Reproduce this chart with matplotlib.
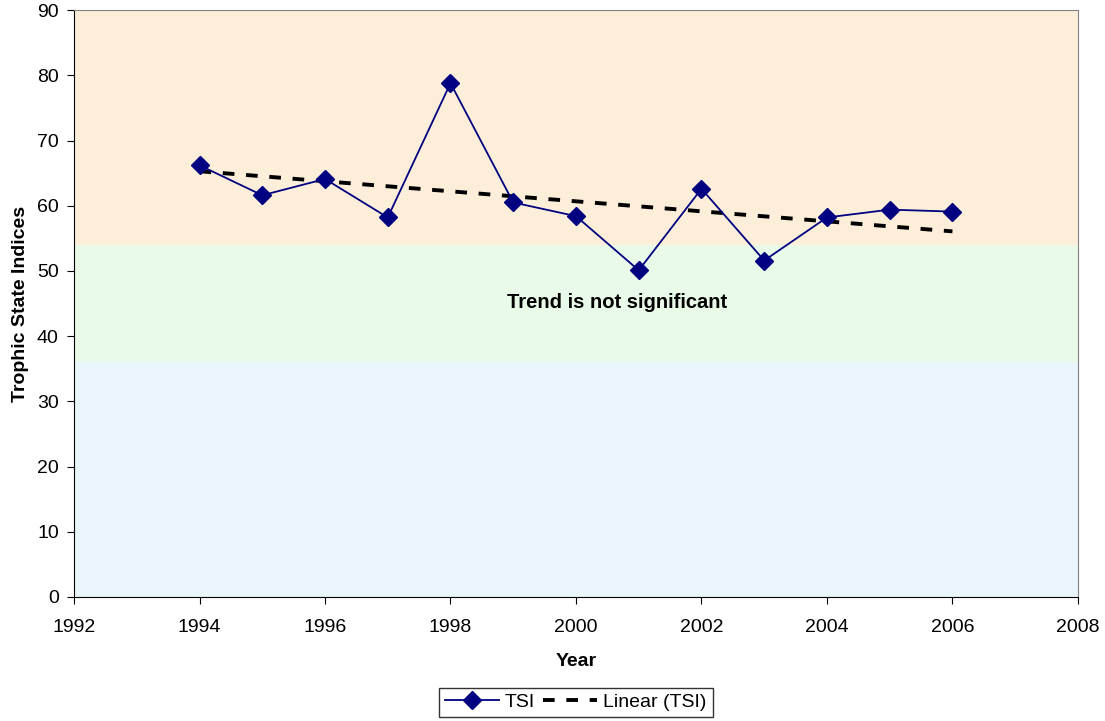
import numpy as np
import matplotlib.pyplot as plt

# Data
years = [1994, 1995, 1996, 1997, 1998, 1999, 2000, 2001, 2002, 2003, 2004, 2005, 2006]
tsi = [66.2, 61.6, 64.1, 58.2, 78.8, 60.5, 58.4, 50.1, 62.6, 51.6, 58.2, 59.4, 59.1]

# Trophic state bands (lower, upper, colour)
bands = [(0, 36, "#eaf6fc"), (36, 54, "#eafae8"), (54, 90, "#fdeeda")]

plt.rcParams["font.family"] = ["Liberation Sans", "DejaVu Sans"]

fig = plt.figure(figsize=(11.05, 7.21), dpi=100)
ax = fig.add_axes([0.067, 0.172, 0.9085, 0.814])

for lo, hi, col in bands:
    ax.axhspan(lo, hi, color=col, zorder=0, lw=0)

# linear trend of TSI
coef = np.polyfit(years, tsi, 1)
trend = np.polyval(coef, years)

ax.plot(years, tsi, color="#000080", lw=1.3, marker="D", markersize=9,
        label="TSI", zorder=3)
ax.plot(years, trend, color="black", lw=2.8, linestyle=(0, (3, 3)),
        label="Linear (TSI)", zorder=2)

ax.text(2000.65, 45.2, "Trend is not significant", ha="center", va="center",
        fontsize=14.5, fontweight="bold")

ax.set_xlim(1992, 2008)
ax.set_ylim(0, 90)
ax.set_xticks(range(1992, 2009, 2))
ax.set_yticks(range(0, 91, 10))
ax.tick_params(axis="both", direction="out", length=5, labelsize=14, color="black")
ax.tick_params(axis="x", pad=11)
ax.tick_params(axis="y", pad=6)
ax.set_xlabel("Year", fontsize=14, fontweight="bold", labelpad=12)
ax.set_ylabel("Trophic State Indices", fontsize=14, fontweight="bold", labelpad=6)

for side in ["top", "right"]:
    ax.spines[side].set_color("#808080")
for side in ["left", "bottom"]:
    ax.spines[side].set_color("black")

leg = fig.legend(loc="center", bbox_to_anchor=(0.521, 0.026), ncol=2,
                 fontsize=14, frameon=True, fancybox=False, edgecolor="black",
                 handlelength=2.8, handletextpad=0.3, columnspacing=0.4,
                 borderpad=0.3, borderaxespad=0)
leg.get_frame().set_linewidth(1.0)

fig.savefig("out.png", dpi=100)
